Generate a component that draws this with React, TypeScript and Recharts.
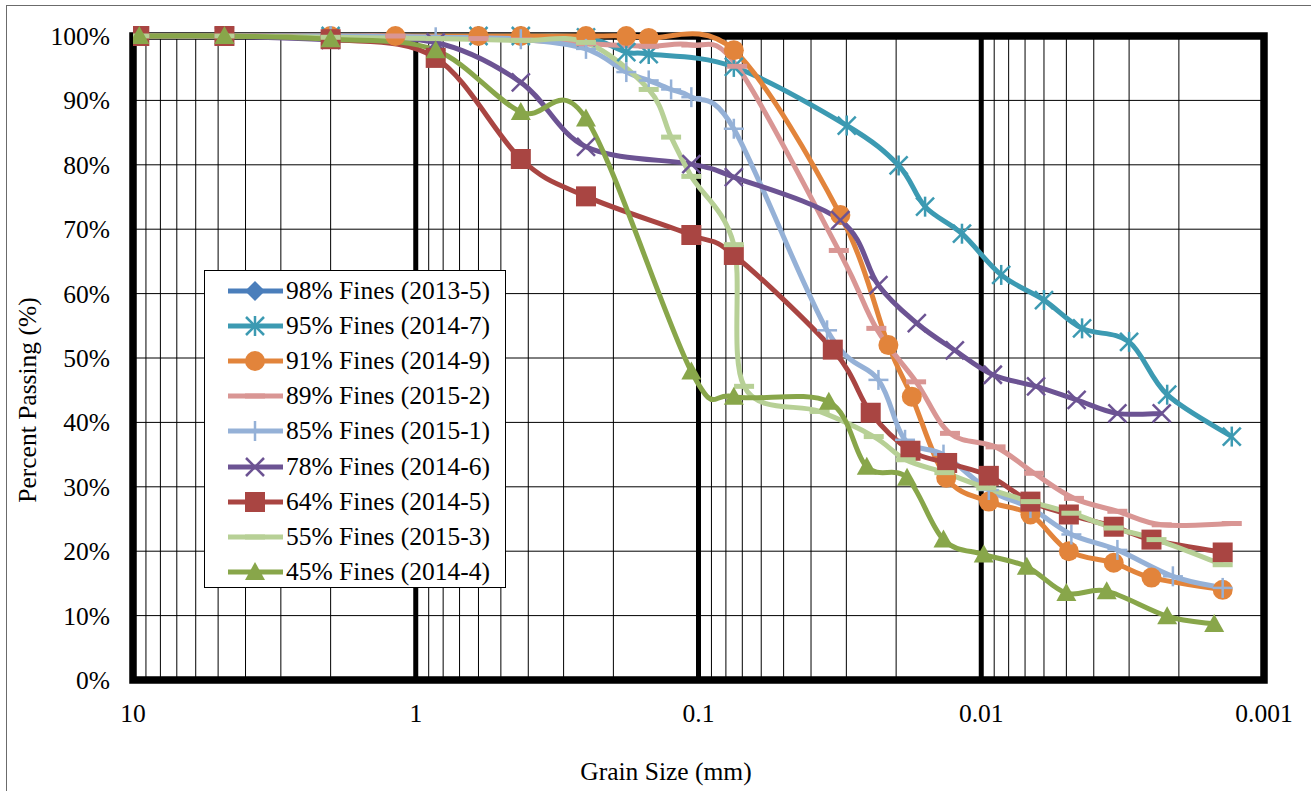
import React from 'react';
import {
  LineChart,
  Line,
  XAxis,
  YAxis,
  CartesianGrid,
  ReferenceLine,
  ReferenceArea,
  Legend,
} from 'recharts';

const FONT = '"Liberation Serif", "Times New Roman", serif';

// grain size (mm) and percent passing
const size2013_5: number[] = [];
const pass2013_5: number[] = [];

const size2014_7 = [9.5, 4.75, 2.0, 0.6, 0.425, 0.25, 0.18, 0.15, 0.075, 0.0299, 0.0196, 0.0158, 0.0117, 0.0085, 0.006, 0.0044, 0.003, 0.0022, 0.0013];
const pass2014_7 = [100, 100, 100, 100, 100, 99.8, 97.5, 97.2, 95.2, 86.1, 79.9, 73.5, 69.3, 62.9, 59.0, 54.6, 52.5, 44.3, 37.8];

const size2014_9 = [9.5, 4.75, 2.0, 1.18, 0.6, 0.425, 0.25, 0.18, 0.15, 0.075, 0.0315, 0.0213, 0.0176, 0.0133, 0.0094, 0.0067, 0.0049, 0.0034, 0.0025, 0.0014];
const pass2014_9 = [100, 100, 100, 100, 100, 100, 100, 100, 99.7, 97.8, 72.2, 52.0, 44.0, 31.4, 27.7, 25.7, 20.0, 18.2, 15.9, 14.0];

const size2015_2 = [9.5, 4.75, 2.0, 1.18, 0.6, 0.425, 0.25, 0.15, 0.106, 0.073, 0.0319, 0.0235, 0.017, 0.0129, 0.0089, 0.0065, 0.0047, 0.0033, 0.0023, 0.0013];
const pass2015_2 = [100, 100, 100, 100, 99.6, 99.4, 98.8, 98.4, 98.6, 95.3, 66.7, 54.6, 46.3, 38.3, 36.2, 32.1, 28.2, 26.2, 24.1, 24.3];

const size2015_1 = [9.5, 4.75, 2.0, 0.85, 0.425, 0.25, 0.18, 0.15, 0.125, 0.106, 0.075, 0.0351, 0.0231, 0.0186, 0.0136, 0.0094, 0.0067, 0.0048, 0.0033, 0.0021, 0.0014];
const pass2015_1 = [100, 100, 100, 99.8, 99.5, 98.0, 94.4, 93.1, 91.7, 90.5, 85.6, 54.3, 46.6, 37.3, 35.0, 29.5, 26.7, 22.6, 20.2, 16.1, 14.3];

const size2014_6 = [9.5, 4.75, 2.0, 0.85, 0.425, 0.25, 0.106, 0.075, 0.0315, 0.0231, 0.0169, 0.0124, 0.0091, 0.0064, 0.0046, 0.0033, 0.0023];
const pass2014_6 = [100, 100, 99.4, 99.0, 92.8, 82.8, 80.1, 78.1, 71.4, 61.3, 55.4, 51.2, 47.4, 45.6, 43.5, 41.4, 41.4];

const size2014_5 = [9.5, 4.75, 2.0, 0.85, 0.425, 0.25, 0.106, 0.075, 0.0335, 0.0246, 0.0178, 0.0132, 0.0094, 0.0067, 0.0049, 0.0034, 0.0025, 0.0014];
const pass2014_5 = [100, 100, 99.5, 96.6, 80.9, 75.1, 69.1, 66.0, 51.3, 41.5, 35.6, 33.7, 31.7, 27.7, 25.7, 23.8, 21.8, 19.8];

const size2015_3 = [9.5, 4.75, 2.0, 0.85, 0.425, 0.25, 0.15, 0.125, 0.106, 0.075, 0.069, 0.0373, 0.024, 0.0185, 0.0135, 0.0096, 0.0067, 0.0048, 0.0034, 0.0024, 0.0014];
const pass2015_3 = [100, 100, 99.8, 99.6, 99.3, 99.0, 91.7, 84.3, 78.2, 67.6, 45.6, 41.7, 37.8, 34.2, 32.2, 29.8, 27.7, 25.9, 23.6, 21.8, 17.9];

const size2014_4 = [9.5, 4.75, 2.0, 0.85, 0.425, 0.25, 0.106, 0.075, 0.0346, 0.0254, 0.0183, 0.0136, 0.0098, 0.0069, 0.005, 0.0036, 0.0022, 0.0015];
const pass2014_4 = [100, 100, 99.5, 97.8, 88.2, 87.2, 47.9, 44.0, 43.2, 33.1, 31.4, 21.8, 19.5, 17.6, 13.5, 13.8, 9.9, 8.7];

const xTicks = [
  10, 9, 8, 7, 6, 5, 4, 3, 2,
  1, 0.9, 0.8, 0.7, 0.6, 0.5, 0.4, 0.3, 0.2,
  0.1, 0.09, 0.08, 0.07, 0.06, 0.05, 0.04, 0.03, 0.02,
  0.01, 0.009, 0.008, 0.007, 0.006, 0.005, 0.004, 0.003, 0.002,
  0.001,
];
const xLabels = [10, 1, 0.1, 0.01, 0.001];
const majorLines = [1, 0.1, 0.01];
const yTicks = [0, 10, 20, 30, 40, 50, 60, 70, 80, 90, 100];

const rows = (sizes: number[], pass: number[]) => sizes.map((d, i) => ({ d, p: pass[i] }));

const SERIES = [
  { name: '98% Fines (2013-5)', color: '#4A7EBB', shape: 'diamond', data: rows(size2013_5, pass2013_5) },
  { name: '95% Fines (2014-7)', color: '#3C9AB2', shape: 'star', data: rows(size2014_7, pass2014_7) },
  { name: '91% Fines (2014-9)', color: '#E2843B', shape: 'circle', data: rows(size2014_9, pass2014_9) },
  { name: '89% Fines (2015-2)', color: '#D99694', shape: 'dash', data: rows(size2015_2, pass2015_2) },
  { name: '85% Fines (2015-1)', color: '#95B1D7', shape: 'plus', data: rows(size2015_1, pass2015_1) },
  { name: '78% Fines (2014-6)', color: '#6C5393', shape: 'x', data: rows(size2014_6, pass2014_6) },
  { name: '64% Fines (2014-5)', color: '#A94542', shape: 'square', data: rows(size2014_5, pass2014_5) },
  { name: '55% Fines (2015-3)', color: '#B7D096', shape: 'dash', data: rows(size2015_3, pass2015_3) },
  { name: '45% Fines (2014-4)', color: '#88A64A', shape: 'triangle', data: rows(size2014_4, pass2014_4) },
];

// Excel style smoothed line (Catmull-Rom through every point)
const excelSmooth = (context: any) => {
  let pts: number[][] = [];
  return {
    areaStart() {},
    areaEnd() {},
    lineStart() {
      pts = [];
    },
    point(x: number, y: number) {
      pts.push([+x, +y]);
    },
    lineEnd() {
      const n = pts.length;
      if (!n) return;
      context.moveTo(pts[0][0], pts[0][1]);
      for (let i = 0; i < n - 1; i++) {
        const p0 = pts[Math.max(i - 1, 0)];
        const p1 = pts[i];
        const p2 = pts[i + 1];
        const p3 = pts[Math.min(i + 2, n - 1)];
        context.bezierCurveTo(
          p1[0] + (p2[0] - p0[0]) / 6,
          p1[1] + (p2[1] - p0[1]) / 6,
          p2[0] - (p3[0] - p1[0]) / 6,
          p2[1] - (p3[1] - p1[1]) / 6,
          p2[0],
          p2[1],
        );
      }
    },
  };
};

function Marker({ shape, cx, cy, color }: { shape: string; cx: number; cy: number; color: string }) {
  switch (shape) {
    case 'circle':
      return <circle cx={cx} cy={cy} r={10} fill={color} />;
    case 'square':
      return <rect x={cx - 10} y={cy - 10} width={20} height={20} fill={color} />;
    case 'triangle':
      return <polygon points={`${cx},${cy - 10} ${cx + 10},${cy + 8} ${cx - 10},${cy + 8}`} fill={color} />;
    case 'diamond':
      return <polygon points={`${cx},${cy - 10} ${cx + 10},${cy} ${cx},${cy + 10} ${cx - 10},${cy}`} fill={color} />;
    case 'dash':
      return <rect x={cx - 10} y={cy - 2.5} width={20} height={5} fill={color} />;
    case 'plus':
      return (
        <g stroke={color} strokeWidth={2.5}>
          <line x1={cx - 10} y1={cy} x2={cx + 10} y2={cy} />
          <line x1={cx} y1={cy - 10} x2={cx} y2={cy + 10} />
        </g>
      );
    case 'x':
      return (
        <g stroke={color} strokeWidth={2.5}>
          <line x1={cx - 9} y1={cy - 9} x2={cx + 9} y2={cy + 9} />
          <line x1={cx - 9} y1={cy + 9} x2={cx + 9} y2={cy - 9} />
        </g>
      );
    case 'star':
      return (
        <g stroke={color} strokeWidth={2.5}>
          <line x1={cx - 9} y1={cy - 9} x2={cx + 9} y2={cy + 9} />
          <line x1={cx - 9} y1={cy + 9} x2={cx + 9} y2={cy - 9} />
          <line x1={cx} y1={cy - 10} x2={cx} y2={cy + 10} />
        </g>
      );
    default:
      return null;
  }
}

const renderXTick = (props: any) => {
  const { x, y, payload } = props;
  if (!xLabels.includes(payload.value)) return <g />;
  return (
    <text x={x} y={y} dy="0.71em" textAnchor="middle" fontFamily={FONT} fontSize={25.5} fill="#000">
      {String(payload.value)}
    </text>
  );
};

const renderLegend = () => (
  <div
    style={{
      width: 302,
      height: 318,
      border: '1px solid #000',
      background: '#fff',
      boxSizing: 'border-box',
      paddingTop: 2,
    }}
  >
    {SERIES.map((s) => (
      <div key={s.name} style={{ display: 'flex', alignItems: 'center', height: 35.2 }}>
        <svg width={80} height={30} style={{ flex: 'none' }}>
          <line x1={23} y1={15} x2={78} y2={15} stroke={s.color} strokeWidth={5} />
          <Marker shape={s.shape} cx={50} cy={15} color={s.color} />
        </svg>
        <span style={{ fontFamily: FONT, fontSize: 25.5, color: '#000', whiteSpace: 'nowrap', marginLeft: 1 }}>
          {s.name}
        </span>
      </div>
    ))}
  </div>
);

export default function App() {
  return (
    <div
      style={{
        position: 'absolute',
        left: 0,
        top: 0,
        width: 1311,
        height: 791,
        overflow: 'hidden',
        background: '#fff',
        fontFamily: FONT,
      }}
    >
      <div
        style={{
          position: 'absolute',
          left: 6,
          top: 5,
          width: 1400,
          height: 900,
          border: '1.5px solid #6b6b6b',
        }}
      />
      <div style={{ position: 'absolute', left: 0, top: 0 }}>
        <LineChart width={1311} height={791} margin={{ top: 36, right: 47, bottom: 71, left: 0 }}>
          <CartesianGrid
            stroke="#000"
            horizontal={{ stroke: '#000', strokeWidth: 2.4 }}
            vertical={{ stroke: '#555', strokeWidth: 1 }}
          />
          <XAxis
            dataKey="d"
            type="number"
            scale="log"
            domain={[0.001, 10]}
            reversed
            allowDataOverflow
            ticks={xTicks}
            interval={0}
            tick={renderXTick}
            tickLine={false}
            axisLine={false}
            tickSize={0}
            tickMargin={24}
            height={40}
          />
          <YAxis
            type="number"
            domain={[0, 100]}
            ticks={yTicks}
            interval={0}
            tickFormatter={(v: number) => `${v}%`}
            tick={{ fontFamily: FONT, fontSize: 25.5, fill: '#000' }}
            tickLine={false}
            axisLine={false}
            tickSize={0}
            tickMargin={23}
            width={133}
          />
          {majorLines.map((v) => (
            <ReferenceLine key={v} x={v} stroke="#000" strokeWidth={5} zIndex={-50} />
          ))}
          <ReferenceArea
            x1={10}
            x2={0.001}
            y1={0}
            y2={100}
            fill="none"
            fillOpacity={0}
            stroke="#000"
            strokeWidth={7.5}
            ifOverflow="visible"
            zIndex={-40}
          />
          {SERIES.map((s) => (
            <Line
              key={s.name}
              data={s.data}
              dataKey="p"
              name={s.name}
              type={excelSmooth as any}
              stroke={s.color}
              strokeWidth={5}
              isAnimationActive={false}
              activeDot={false}
              dot={(p: any) => <Marker key={`${s.name}-${p.index}`} shape={s.shape} cx={p.cx} cy={p.cy} color={s.color} />}
            />
          ))}
          <Legend
            layout="vertical"
            align="center"
            verticalAlign="middle"
            content={renderLegend}
            wrapperStyle={{ position: 'absolute', left: 204, top: 270, width: 302, height: 318 }}
          />
        </LineChart>
      </div>
      <div
        style={{
          position: 'absolute',
          left: 666,
          top: 772,
          transform: 'translate(-50%, -50%)',
          fontSize: 25.5,
          whiteSpace: 'nowrap',
          color: '#000',
        }}
      >
        Grain Size (mm)
      </div>
      <div
        style={{
          position: 'absolute',
          left: 28,
          top: 400,
          transform: 'translate(-50%, -50%) rotate(-90deg)',
          fontSize: 25.5,
          whiteSpace: 'nowrap',
          color: '#000',
        }}
      >
        Percent Passing (%)
      </div>
    </div>
  );
}
